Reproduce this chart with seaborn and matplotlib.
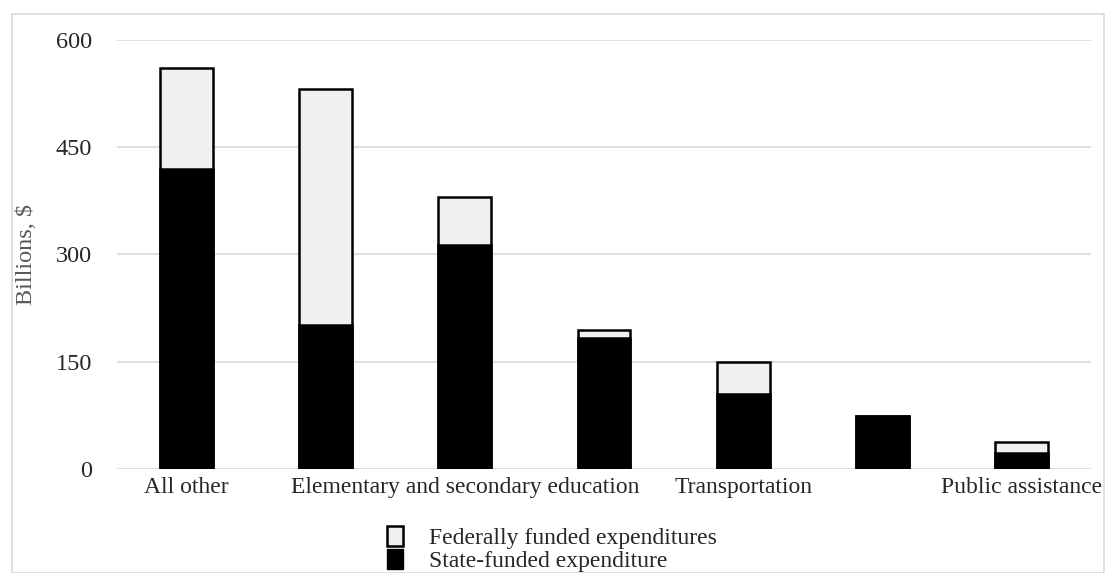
import matplotlib
matplotlib.use("Agg")
import matplotlib.pyplot as plt
import matplotlib.patches as mpatches
import seaborn as sns
import pandas as pd

# values (billions of dollars)
categories = ["All other", "Medicaid", "Elementary and secondary education",
              "Higher education", "Transportation", "Corrections", "Public assistance"]
state_funded = [420, 201, 313, 183, 105, 74, 22]
federal_funded = [141, 330, 67, 11, 45, 0, 16]
tick_labels = ["All other", "", "Elementary and secondary education", "",
               "Transportation", "", "Public assistance"]

df = pd.DataFrame({"category": categories, "state": state_funded, "federal": federal_funded})
df["total"] = df["state"] + df["federal"]

sns.set_style("white")
plt.rcParams["font.family"] = ["Liberation Serif", "DejaVu Serif"]

fig = plt.figure(figsize=(11.09, 5.73), dpi=100)
ax = fig.add_axes([117 / 1109, 1 - 469 / 573, (1091 - 117) / 1109, (469 - 40) / 573])

# frame round the chart area, as in the spreadsheet export
fig.patches.append(mpatches.Rectangle((12 / 1109, 0), 1092 / 1109, 1 - 14 / 573,
                                      transform=fig.transFigure, fill=False,
                                      edgecolor="#d9d9d9", linewidth=1.2))

sns.barplot(data=df, x="category", y="total", color="#f0f0f0", edgecolor="black",
            linewidth=1.8, width=0.38, saturation=1, ax=ax, zorder=3)
sns.barplot(data=df, x="category", y="state", color="black", edgecolor="black",
            linewidth=1.8, width=0.38, saturation=1, ax=ax, zorder=4)

ax.set_ylim(0, 600)
ax.set_xlim(-0.5, 6.5)
ax.set_yticks([0, 150, 300, 450, 600])
ax.set_xticks(range(len(categories)))
ax.set_xticklabels(tick_labels, fontsize=17)
ax.tick_params(axis="y", labelsize=17.5, length=0, pad=18)
ax.tick_params(axis="x", length=0, pad=6)
ax.yaxis.grid(True, color="#d9d9d9", linewidth=1.2, zorder=0)
ax.set_axisbelow(True)
for s in ax.spines.values():
    s.set_visible(False)
ax.set_xlabel("")
ax.set_ylabel("Billions, $", fontsize=17.5, color="#595959")
ax.yaxis.set_label_coords(-0.082, 0.5)

handles = [mpatches.Patch(facecolor="#f0f0f0", edgecolor="black", linewidth=1.8,
                          label="Federally funded expenditures"),
           mpatches.Patch(facecolor="black", edgecolor="black", label="State-funded expenditure")]
fig.legend(handles=handles, loc="center", bbox_to_anchor=(552 / 1109, 1 - 549 / 573),
           frameon=False, fontsize=17, labelspacing=0.0, handlelength=0.7,
           handleheight=0.9, handletextpad=1.1, borderpad=0)

fig.savefig("out.png", dpi=100)
